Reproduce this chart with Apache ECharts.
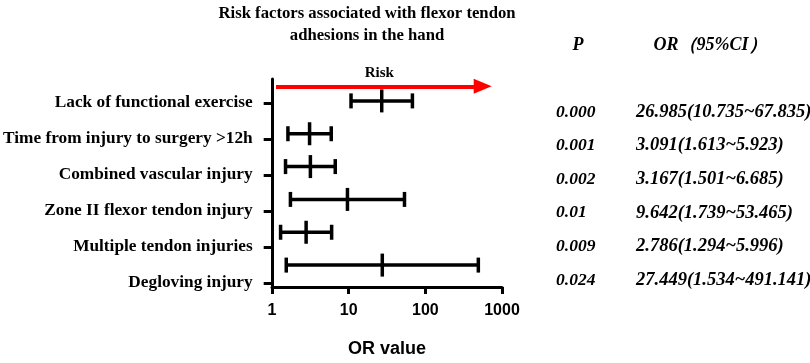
<!DOCTYPE html>
<html>
<head>
<meta charset="utf-8">
<script src="https://cdn.jsdelivr.net/npm/echarts@6/dist/echarts.min.js"></script>
<style>
  html, body { margin: 0; padding: 0; background: #fff; }
  #main { width: 810px; height: 363px; }
</style>
</head>
<body>
<div id="main"></div>
<script>
/* data, top row first */
const factors = [
    'Lack of functional exercise',
    'Time from injury to surgery >12h',
    'Combined vascular injury',
    'Zone II flexor tendon injury',
    'Multiple tendon injuries',
    'Degloving injury'
];
const orValues = [26.985, 3.091, 3.167, 9.642, 2.786, 27.449];
const ciLow = [10.735, 1.613, 1.501, 1.739, 1.294, 1.534];
const ciHigh = [67.835, 5.923, 6.685, 53.465, 5.996, 491.141];
const pValues = ['0.000', '0.001', '0.002', '0.01', '0.009', '0.024'];
const xTicks = [1, 10, 100, 1000];

const serif = "'Liberation Serif', 'Times New Roman', serif";
const sans = "'Liberation Sans', Arial, sans-serif";
const n = factors.length;

const barData = factors.map((f, i) => [n - 1 - i, orValues[i], ciLow[i], ciHigh[i]]);

function renderBar(params, api) {
    const y = api.value(0);
    const mid = api.coord([api.value(1), y]);
    const lo = api.coord([api.value(2), y]);
    const hi = api.coord([api.value(3), y]);
    const style = { stroke: '#000', lineWidth: 3.5 };
    const seg = (x1, y1, x2, y2) => ({ type: 'line', shape: { x1, y1, x2, y2 }, style });
    return {
        type: 'group',
        children: [
            seg(lo[0], lo[1], hi[0], hi[1]),
            seg(lo[0], lo[1] - 7.5, lo[0], lo[1] + 7.5),
            seg(hi[0], hi[1] - 7.5, hi[0], hi[1] + 7.5),
            seg(mid[0], mid[1] - 11.5, mid[0], mid[1] + 11.5)
        ]
    };
}

const table = [
    { type: 'text', style: { x: 578, y: 45, text: 'P', textAlign: 'center', textVerticalAlign: 'middle',
        font: 'italic bold 18px ' + serif, fill: '#000' } },
    { type: 'text', style: { x: 710, y: 45, text: 'OR（95%CI）', textAlign: 'center', textVerticalAlign: 'middle',
        font: 'italic bold 18px ' + serif, fill: '#000' } }
];
factors.forEach((f, i) => {
    const y = 112 + i * 33.6;
    table.push({ type: 'text', style: { x: 556, y, text: pValues[i], textVerticalAlign: 'middle',
        font: 'italic bold 17.5px ' + serif, fill: '#000' } });
    table.push({ type: 'text', style: { x: 636, y,
        text: orValues[i].toFixed(3) + '(' + ciLow[i].toFixed(3) + '~' + ciHigh[i].toFixed(3) + ')',
        textVerticalAlign: 'middle', font: 'italic bold 18.5px ' + serif, fill: '#000' } });
});

const chart = echarts.init(document.getElementById('main'));
chart.setOption({
    animation: false,
    backgroundColor: '#fff',
    graphic: [
        { type: 'text', style: { x: 367, y: 3, text: 'Risk factors associated with flexor tendon\nadhesions in the hand',
            textAlign: 'center', font: 'bold 16.7px ' + serif, lineHeight: 22, fill: '#000' } }
    ].concat(table),
    grid: [
        { left: 272, top: 79, width: 230, height: 228 },
        { left: 272, top: 85, width: 230, height: 216 }
    ],
    xAxis: [
        {
            type: 'log', logBase: 10, min: 1, max: 1000, gridIndex: 0,
            axisLine: { onZero: false, lineStyle: { color: '#000', width: 3 } },
            axisTick: { length: 7, lineStyle: { color: '#000', width: 3 } },
            axisLabel: { color: '#000', fontFamily: sans, fontWeight: 'bold', fontSize: 16, margin: 16,
                formatter: v => xTicks.includes(Math.round(v)) ? String(Math.round(v)) : '' },
            splitLine: { show: false },
            minorTick: { show: false },
            name: 'OR value', nameLocation: 'middle', nameGap: 53,
            nameTextStyle: { color: '#000', fontFamily: sans, fontWeight: 'bold', fontSize: 18 }
        },
        { type: 'value', gridIndex: 1, show: false }
    ],
    yAxis: [
        {
            type: 'value', min: -0.667, max: 5.667, gridIndex: 0,
            axisLine: { show: true, onZero: false, lineStyle: { color: '#000', width: 3 } },
            axisTick: { show: false }, axisLabel: { show: false }, splitLine: { show: false }
        },
        {
            type: 'category', data: factors, inverse: true, gridIndex: 1,
            axisLine: { show: false },
            axisTick: { show: true, alignWithLabel: true, length: 10, lineStyle: { color: '#000', width: 3 } },
            axisLabel: { color: '#000', fontFamily: serif, fontWeight: 'bold', fontSize: 17.3, margin: 21 },
            splitLine: { show: false }
        }
    ],
    series: [
        {
            type: 'custom', xAxisIndex: 0, yAxisIndex: 0,
            renderItem: renderBar,
            data: barData,
            encode: { x: [1, 2, 3], y: 0 },
            markLine: {
                silent: true,
                symbol: ['none', 'triangle'],
                symbolSize: [15, 18],
                lineStyle: { color: '#ff0000', width: 4, type: 'solid' },
                label: { show: true, position: 'insideMiddleTop', formatter: 'Risk', distance: 6,
                    color: '#000', fontFamily: serif, fontWeight: 'bold', fontSize: 15 },
                data: [[{ coord: [1.128, 5.444] }, { coord: [560, 5.444] }]]
            }
        }
    ]
});
</script>
</body>
</html>
